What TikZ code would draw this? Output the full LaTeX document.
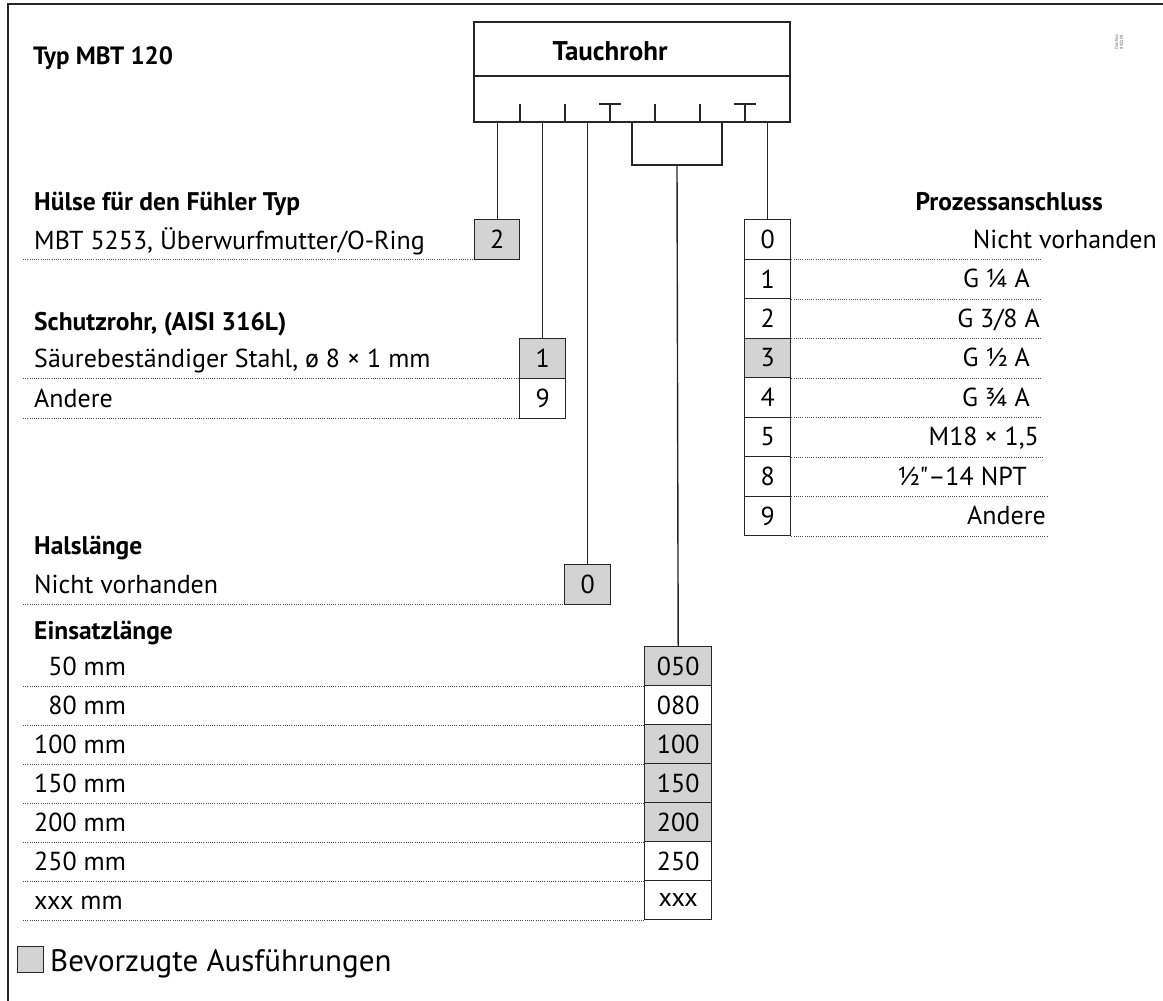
\documentclass[tikz,border=0pt]{standalone}
\usepackage{fontspec}
\setmainfont{PT Sans}
\font\rawquote="PT Sans" at 26pt
\definecolor{ln}{HTML}{262626}
\definecolor{pref}{HTML}{D3D3D3}
\definecolor{dots}{HTML}{4D4D4D}
\newcommand\rfont{\fontsize{26}{30}\selectfont}
\newcommand\bfont{\fontsize{25.5}{30}\selectfont\bfseries}
\tikzset{
  frameline/.style={line width=1.4pt, draw=ln},
  conn/.style={line width=1.4pt, draw=ln},
  cell/.style={draw=ln, line width=1.4pt, minimum width=45pt, minimum height=39.5pt, inner sep=0pt, anchor=north west, font=\rfont},
  wcell/.style={cell, minimum width=67pt, minimum height=39pt},
  prefcell/.style={fill=pref},
  lbl/.style={inner sep=0pt, font=\rfont, text=black},
  ttl/.style={inner sep=0pt, font=\bfont, text=black},
  dotline/.style={draw=dots, line width=0.9pt, dash pattern=on 1pt off 1.2pt},
}
\begin{document}
\begin{tikzpicture}[x=1pt, y=-1pt]
\useasboundingbox (0,0) rectangle (1163,1001);
% frame
\coordinate (fb) at (8,1001);
\coordinate (fc) at (8,4);
\coordinate (fr) at (1163,4);
\draw[frameline] (fb) -- (fc) -- (fr);

% title
\node[ttl, anchor=base west, font=\fontsize{25}{29}\selectfont\bfseries] (typ) at (33,64) {Typ MBT 120};
\node[inner sep=0pt, font=\fontsize{4.5}{5}\selectfont, text=black!60, rotate=90, align=center] (dan) at (1119,42) {Danfoss\\84Z109};

% Tauchrohr box
\node[draw=ln, line width=1.4pt, minimum width=316pt, minimum height=100pt, inner sep=0pt] (tr) at (632,72) {};
\coordinate (dv) at (0,76);
\draw[conn] (tr.west |- dv) -- (tr.east |- dv);
\node[ttl, anchor=base, font=\fontsize{27}{31}\selectfont\bfseries] (trt) at (610,60) {Tauchrohr};

% ticks
\foreach \t in {520,565,655,700}{
  \draw[conn] (\t,122) -- (\t,104);
}
\foreach \t in {610,745}{
  \draw[conn] (\t,122) -- (\t,104);
  \draw[conn] (\t-11,104) -- (\t+11,104);
}

% --- Huelse
\node[ttl, anchor=base west] (h0) at (34,210) {Hülse für den Fühler Typ};
\node[cell, prefcell] (b2) at (474,219) {2};
\node[lbl, anchor=base west] (h1) at (34,249) {MBT 5253, Überwurfmutter/O-Ring};
\draw[dotline] ([xshift=-11pt]h1.west |- b2.south) -- (b2.south west);
\draw[conn] (tr.south -| b2.north) -- (b2.north);

% --- Schutzrohr
\node[ttl, anchor=base west] (s0) at (34,330) {Schutzrohr, (AISI 316L)};
\node[cell, prefcell, minimum width=46pt] (s1b) at (519,338) {1};
\node[cell, minimum width=46pt, minimum height=40pt] (s9b) at (519,377.5) {9};
\node[lbl, anchor=base west] (s1) at (34,367) {Säurebeständiger Stahl, ø 8 × 1 mm};
\node[lbl, anchor=base west] (s9) at (34,407) {Andere};
\draw[dotline] ([xshift=-11pt]s1.west |- s1b.south) -- (s1b.south west);
\draw[dotline] ([xshift=-11pt]s9.west |- s9b.south) -- (s9b.south west);
\draw[conn] (tr.south -| s1b.north) -- (s1b.north);

% --- Halslaenge
\node[ttl, anchor=base west] (g0) at (34,554) {Halslänge};
\node[cell, prefcell, minimum width=46pt] (g0b) at (564,564) {0};
\node[lbl, anchor=base west] (g1) at (34,593) {Nicht vorhanden};
\draw[dotline] ([xshift=-11pt]g1.west |- g0b.south) -- (g0b.south west);
\draw[conn] (tr.south -| g0b.north) -- (g0b.north);

% --- Einsatzlaenge
\node[ttl, anchor=base west] (e0) at (34,639) {Einsatzlänge};
\foreach \i/\v/\l/\p in {0/050/{\hphantom{1}50 mm}/1, 1/080/{\hphantom{1}80 mm}/0, 2/100/{100 mm}/1, 3/150/{150 mm}/1, 4/200/{200 mm}/1, 5/250/{250 mm}/0, 6/xxx/{xxx mm}/0}{
  \ifnum\p=1
    \node[wcell, prefcell] (eb\i) at (644,646+39*\i) {\v};
  \else
    \node[wcell] (eb\i) at (644,646+39*\i) {\v};
  \fi
  \node[lbl, anchor=base west] (el\i) at (34,675+39*\i) {\l};
  \draw[dotline] ([xshift=-11pt]el\i.west |- eb\i.south) -- (eb\i.south west);
}
% bracket connector
\coordinate (bl) at (632,165);
\coordinate (br) at (722,165);
\coordinate (bm) at (677,165);
\draw[conn] (tr.south -| bl) -- (bl) -- (br) -- (tr.south -| br);
\draw[conn] (bm) -- (eb0.north);

% --- Prozessanschluss
\node[ttl, anchor=base east] (p0) at (1103,210) {Prozessanschluss};
\foreach \i/\v/\l/\r/\d/\p in {0/0/{Nicht vorhanden}/1157/1042/0, 1/1/{G ¼ A}/1030/1042/0, 2/2/{G 3/8 A}/1040/1042/0, 3/3/{G ½ A}/1030/1042/1, 4/4/{G ¾ A}/1030/1042/0, 5/5/{M18 × 1,5}/1039/1044/0, 6/8/{½{\rawquote\char"22}–14 NPT}/1027/1047/0, 7/9/{Andere}/1046/1047/0}{
  \ifnum\p=1
    \node[cell, prefcell, minimum width=46pt] (pb\i) at (744,219+39.5*\i) {\v};
  \else
    \node[cell, minimum width=46pt] (pb\i) at (744,219+39.5*\i) {\v};
  \fi
  \node[lbl, anchor=base east] (pl\i) at (\r,248+39.5*\i) {\l};
  \coordinate (pd\i) at (\d,0);
  \draw[dotline] (pb\i.south east) -- (pd\i |- pb\i.south);
}
\draw[conn] (tr.south -| pb0.north) -- (pb0.north);

% legend
\node[draw=ln, line width=1.2pt, fill=pref, minimum width=26pt, minimum height=26pt, inner sep=0pt, anchor=north west] (leg) at (17,946) {};
\node[lbl, anchor=base west, font=\fontsize{31}{35}\selectfont] (legt) at (50,971) {Bevorzugte Ausführungen};
\end{tikzpicture}
\end{document}
